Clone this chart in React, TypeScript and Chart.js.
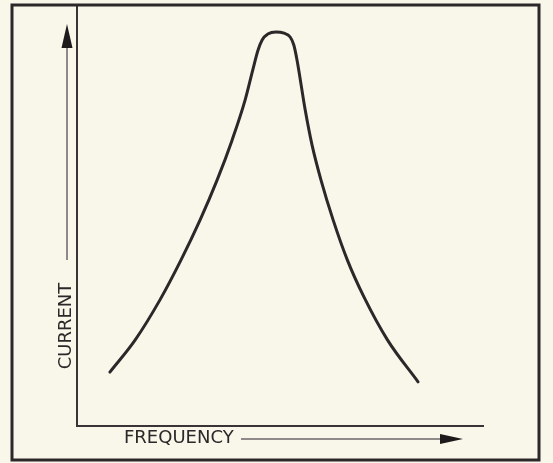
import React, { useEffect, useRef } from "react";
import { Chart, registerables } from "chart.js";

Chart.register(...registerables);

// Frequency (arbitrary units, 0-100) and current (arbitrary units, 0-100)
const frequency: number[] = [
  8.1, 14.3, 20.4, 25.6, 30.3, 34.5, 38.2, 41.4, 43.3, 44.6, 45.6, 47.0, 49.0,
  51.0, 52.5, 53.4, 54.2, 56.2, 57.9, 60.1, 63.1, 66.6, 70.7, 76.5, 84.0,
];
const current: number[] = [
  12.8, 20.4, 29.9, 39.4, 48.9, 58.4, 67.9, 77.4, 84.6, 89.3, 91.7, 93.1, 93.6,
  93.3, 92.4, 90.5, 86.9, 75.1, 66.7, 58.4, 48.9, 39.4, 30.6, 20.4, 10.5,
];
const xLabel = "FREQUENCY";
const yLabel = "CURRENT";

const BG = "#f9f6ea";
const INK = "#2c2729";
const FONT = "18px 'DejaVu Sans', 'Liberation Sans', sans-serif";

const decorations = {
  id: "decorations",
  afterDraw(chart: any) {
    const ctx = chart.ctx as CanvasRenderingContext2D;
    const ca = chart.chartArea;
    ctx.save();
    // outer frame
    ctx.strokeStyle = INK;
    ctx.lineWidth = 3;
    ctx.strokeRect(12, ca.top, 527, 455);

    // vertical arrow + label
    const ax = ca.left - 10;
    ctx.strokeStyle = "#6b6668";
    ctx.lineWidth = 1.5;
    ctx.beginPath();
    ctx.moveTo(ax, ca.top + 40);
    ctx.lineTo(ax, ca.top + 255);
    ctx.stroke();
    ctx.fillStyle = "#1e1a1c";
    ctx.beginPath();
    ctx.moveTo(ax, ca.top + 19);
    ctx.lineTo(ax - 5.5, ca.top + 43);
    ctx.lineTo(ax + 5.5, ca.top + 43);
    ctx.closePath();
    ctx.fill();

    ctx.fillStyle = INK;
    ctx.font = FONT;
    ctx.textBaseline = "middle";
    ctx.save();
    ctx.translate(ax - 1, ca.top + 321);
    ctx.rotate(-Math.PI / 2);
    ctx.textAlign = "center";
    ctx.fillText(yLabel, 0, 0);
    ctx.restore();

    // horizontal arrow + label
    const ay = ca.bottom + 13;
    ctx.textAlign = "left";
    ctx.fillText(xLabel, ca.left + 47, ay - 1);
    ctx.strokeStyle = "#6b6668";
    ctx.lineWidth = 1.5;
    ctx.beginPath();
    ctx.moveTo(ca.left + 164, ay);
    ctx.lineTo(ca.left + 368, ay);
    ctx.stroke();
    ctx.fillStyle = "#1e1a1c";
    ctx.beginPath();
    ctx.moveTo(ca.left + 363, ay - 5);
    ctx.lineTo(ca.left + 386, ay);
    ctx.lineTo(ca.left + 363, ay + 5);
    ctx.closePath();
    ctx.fill();
    ctx.restore();
  },
};

export default function App() {
  const ref = useRef<HTMLCanvasElement | null>(null);
  useEffect(() => {
    if (!ref.current) return;
    const chart = new Chart(ref.current, {
      type: "line",
      data: {
        datasets: [
          {
            data: frequency.map((f, i) => ({ x: f, y: current[i] })),
            borderColor: INK,
            borderWidth: 3,
            pointRadius: 0,
            cubicInterpolationMode: "monotone",
            borderCapStyle: "round",
            borderJoinStyle: "round",
            fill: false,
          },
        ],
      },
      options: {
        animation: false,
        responsive: false,
        devicePixelRatio: 1,
        layout: { padding: { left: 77, top: 5, right: 70, bottom: 37 } },
        plugins: { legend: { display: false }, tooltip: { enabled: false } },
        scales: {
          x: {
            type: "linear",
            min: 0,
            max: 100,
            ticks: { display: false },
            grid: { display: false, drawTicks: false, tickLength: 0 },
            border: { display: true, color: "#3a3436", width: 2 },
          },
          y: {
            type: "linear",
            min: 0,
            max: 100,
            ticks: { display: false },
            grid: { display: false, drawTicks: false, tickLength: 0 },
            border: { display: true, color: "#3a3436", width: 2 },
          },
        },
      },
      plugins: [decorations],
    });
    return () => chart.destroy();
  }, []);
  return (
    <div
      style={{
        position: "absolute",
        left: 0,
        top: 0,
        width: 553,
        height: 463,
        background: BG,
      }}
    >
      <canvas ref={ref} width={553} height={463} />
    </div>
  );
}
